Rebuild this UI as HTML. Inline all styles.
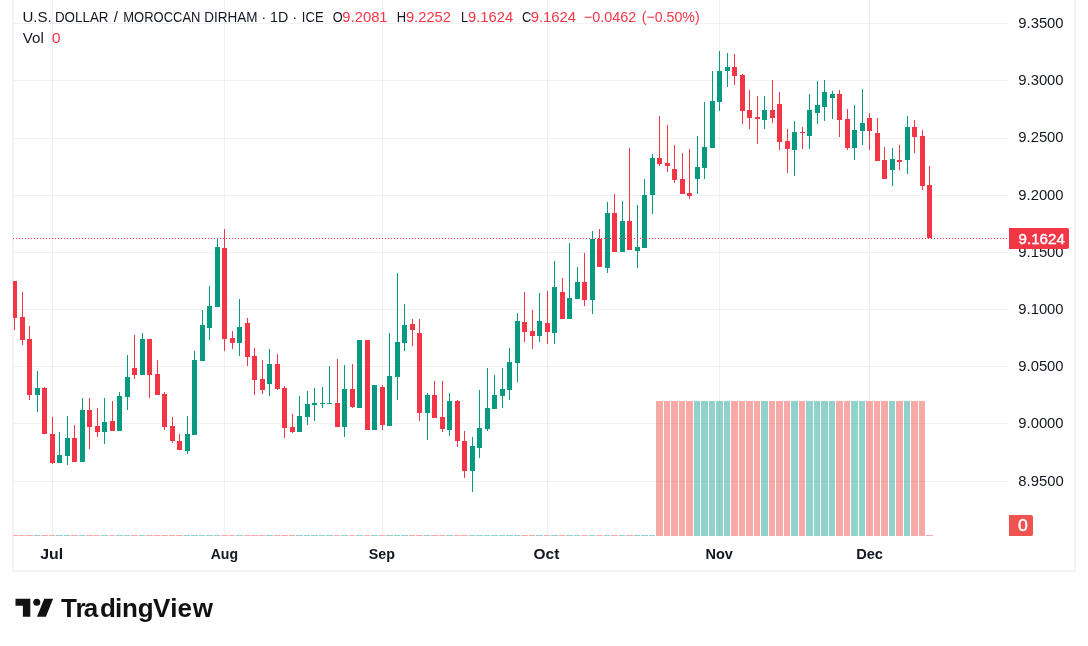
<!DOCTYPE html>
<html lang="en"><head><meta charset="utf-8"><title>USDMAD chart</title>
<style>html,body{margin:0;padding:0;background:#fff;}body{width:1088px;height:646px;overflow:hidden;}svg{display:block;}text{font-family:"Liberation Sans", sans-serif;}</style>
</head><body>
<svg width="1088" height="646" viewBox="0 0 1088 646">
<rect width="1088" height="646" fill="#fff"/>
<g fill="rgba(0,0,0,0.055)" shape-rendering="crispEdges">
<rect x="13" y="23" width="995" height="1"/>
<rect x="13" y="80" width="995" height="1"/>
<rect x="13" y="138" width="995" height="1"/>
<rect x="13" y="195" width="995" height="1"/>
<rect x="13" y="252" width="995" height="1"/>
<rect x="13" y="309" width="995" height="1"/>
<rect x="13" y="366" width="995" height="1"/>
<rect x="13" y="423" width="995" height="1"/>
<rect x="13" y="481" width="995" height="1"/>
<rect x="52" y="0" width="1" height="535"/>
<rect x="224" y="0" width="1" height="535"/>
<rect x="382" y="0" width="1" height="535"/>
<rect x="547" y="0" width="1" height="535"/>
<rect x="719" y="0" width="1" height="535"/>
<rect x="869" y="0" width="1" height="535"/>
</g>
<g fill="#f4f4f4">
<rect x="12" y="0" width="2" height="570"/>
<rect x="12" y="570" width="1064" height="2"/>
<rect x="1074" y="0" width="2" height="570"/>
</g>
<g shape-rendering="crispEdges">
<rect x="13" y="535" width="5" height="1" fill="rgba(239,83,80,0.5)"/>
<rect x="19" y="535" width="6" height="1" fill="rgba(239,83,80,0.5)"/>
<rect x="26" y="535" width="7" height="1" fill="rgba(239,83,80,0.5)"/>
<rect x="34" y="535" width="6" height="1" fill="rgba(38,166,154,0.5)"/>
<rect x="41" y="535" width="7" height="1" fill="rgba(239,83,80,0.5)"/>
<rect x="49" y="535" width="6" height="1" fill="rgba(239,83,80,0.5)"/>
<rect x="56" y="535" width="7" height="1" fill="rgba(38,166,154,0.5)"/>
<rect x="64" y="535" width="6" height="1" fill="rgba(38,166,154,0.5)"/>
<rect x="71" y="535" width="7" height="1" fill="rgba(239,83,80,0.5)"/>
<rect x="79" y="535" width="6" height="1" fill="rgba(38,166,154,0.5)"/>
<rect x="86" y="535" width="7" height="1" fill="rgba(239,83,80,0.5)"/>
<rect x="94" y="535" width="6" height="1" fill="rgba(239,83,80,0.5)"/>
<rect x="101" y="535" width="7" height="1" fill="rgba(38,166,154,0.5)"/>
<rect x="109" y="535" width="6" height="1" fill="rgba(239,83,80,0.5)"/>
<rect x="116" y="535" width="7" height="1" fill="rgba(38,166,154,0.5)"/>
<rect x="124" y="535" width="6" height="1" fill="rgba(38,166,154,0.5)"/>
<rect x="131" y="535" width="7" height="1" fill="rgba(239,83,80,0.5)"/>
<rect x="139" y="535" width="6" height="1" fill="rgba(38,166,154,0.5)"/>
<rect x="146" y="535" width="7" height="1" fill="rgba(239,83,80,0.5)"/>
<rect x="154" y="535" width="6" height="1" fill="rgba(239,83,80,0.5)"/>
<rect x="161" y="535" width="7" height="1" fill="rgba(239,83,80,0.5)"/>
<rect x="169" y="535" width="6" height="1" fill="rgba(239,83,80,0.5)"/>
<rect x="176" y="535" width="7" height="1" fill="rgba(239,83,80,0.5)"/>
<rect x="184" y="535" width="6" height="1" fill="rgba(38,166,154,0.5)"/>
<rect x="191" y="535" width="7" height="1" fill="rgba(38,166,154,0.5)"/>
<rect x="199" y="535" width="6" height="1" fill="rgba(38,166,154,0.5)"/>
<rect x="206" y="535" width="7" height="1" fill="rgba(38,166,154,0.5)"/>
<rect x="214" y="535" width="6" height="1" fill="rgba(38,166,154,0.5)"/>
<rect x="221" y="535" width="7" height="1" fill="rgba(239,83,80,0.5)"/>
<rect x="229" y="535" width="6" height="1" fill="rgba(239,83,80,0.5)"/>
<rect x="236" y="535" width="7" height="1" fill="rgba(38,166,154,0.5)"/>
<rect x="244" y="535" width="6" height="1" fill="rgba(239,83,80,0.5)"/>
<rect x="251" y="535" width="7" height="1" fill="rgba(239,83,80,0.5)"/>
<rect x="259" y="535" width="6" height="1" fill="rgba(239,83,80,0.5)"/>
<rect x="266" y="535" width="7" height="1" fill="rgba(38,166,154,0.5)"/>
<rect x="274" y="535" width="6" height="1" fill="rgba(239,83,80,0.5)"/>
<rect x="281" y="535" width="7" height="1" fill="rgba(239,83,80,0.5)"/>
<rect x="289" y="535" width="6" height="1" fill="rgba(239,83,80,0.5)"/>
<rect x="296" y="535" width="7" height="1" fill="rgba(38,166,154,0.5)"/>
<rect x="304" y="535" width="6" height="1" fill="rgba(38,166,154,0.5)"/>
<rect x="311" y="535" width="7" height="1" fill="rgba(38,166,154,0.5)"/>
<rect x="319" y="535" width="6" height="1" fill="rgba(38,166,154,0.5)"/>
<rect x="326" y="535" width="7" height="1" fill="rgba(38,166,154,0.5)"/>
<rect x="334" y="535" width="6" height="1" fill="rgba(239,83,80,0.5)"/>
<rect x="341" y="535" width="7" height="1" fill="rgba(38,166,154,0.5)"/>
<rect x="349" y="535" width="6" height="1" fill="rgba(239,83,80,0.5)"/>
<rect x="356" y="535" width="7" height="1" fill="rgba(38,166,154,0.5)"/>
<rect x="364" y="535" width="6" height="1" fill="rgba(239,83,80,0.5)"/>
<rect x="371" y="535" width="7" height="1" fill="rgba(38,166,154,0.5)"/>
<rect x="379" y="535" width="6" height="1" fill="rgba(239,83,80,0.5)"/>
<rect x="386" y="535" width="7" height="1" fill="rgba(38,166,154,0.5)"/>
<rect x="394" y="535" width="6" height="1" fill="rgba(38,166,154,0.5)"/>
<rect x="401" y="535" width="7" height="1" fill="rgba(38,166,154,0.5)"/>
<rect x="409" y="535" width="6" height="1" fill="rgba(239,83,80,0.5)"/>
<rect x="416" y="535" width="7" height="1" fill="rgba(239,83,80,0.5)"/>
<rect x="424" y="535" width="6" height="1" fill="rgba(38,166,154,0.5)"/>
<rect x="431" y="535" width="7" height="1" fill="rgba(239,83,80,0.5)"/>
<rect x="439" y="535" width="6" height="1" fill="rgba(239,83,80,0.5)"/>
<rect x="446" y="535" width="7" height="1" fill="rgba(38,166,154,0.5)"/>
<rect x="454" y="535" width="6" height="1" fill="rgba(239,83,80,0.5)"/>
<rect x="461" y="535" width="7" height="1" fill="rgba(239,83,80,0.5)"/>
<rect x="469" y="535" width="6" height="1" fill="rgba(38,166,154,0.5)"/>
<rect x="476" y="535" width="7" height="1" fill="rgba(38,166,154,0.5)"/>
<rect x="484" y="535" width="6" height="1" fill="rgba(38,166,154,0.5)"/>
<rect x="491" y="535" width="7" height="1" fill="rgba(38,166,154,0.5)"/>
<rect x="499" y="535" width="6" height="1" fill="rgba(38,166,154,0.5)"/>
<rect x="506" y="535" width="7" height="1" fill="rgba(38,166,154,0.5)"/>
<rect x="514" y="535" width="6" height="1" fill="rgba(38,166,154,0.5)"/>
<rect x="521" y="535" width="7" height="1" fill="rgba(239,83,80,0.5)"/>
<rect x="529" y="535" width="6" height="1" fill="rgba(239,83,80,0.5)"/>
<rect x="536" y="535" width="7" height="1" fill="rgba(38,166,154,0.5)"/>
<rect x="544" y="535" width="6" height="1" fill="rgba(239,83,80,0.5)"/>
<rect x="551" y="535" width="7" height="1" fill="rgba(38,166,154,0.5)"/>
<rect x="559" y="535" width="6" height="1" fill="rgba(239,83,80,0.5)"/>
<rect x="566" y="535" width="7" height="1" fill="rgba(38,166,154,0.5)"/>
<rect x="574" y="535" width="6" height="1" fill="rgba(38,166,154,0.5)"/>
<rect x="581" y="535" width="7" height="1" fill="rgba(239,83,80,0.5)"/>
<rect x="589" y="535" width="6" height="1" fill="rgba(38,166,154,0.5)"/>
<rect x="596" y="535" width="7" height="1" fill="rgba(239,83,80,0.5)"/>
<rect x="604" y="535" width="6" height="1" fill="rgba(38,166,154,0.5)"/>
<rect x="611" y="535" width="7" height="1" fill="rgba(239,83,80,0.5)"/>
<rect x="619" y="535" width="6" height="1" fill="rgba(38,166,154,0.5)"/>
<rect x="626" y="535" width="7" height="1" fill="rgba(239,83,80,0.5)"/>
<rect x="634" y="535" width="6" height="1" fill="rgba(38,166,154,0.5)"/>
<rect x="641" y="535" width="7" height="1" fill="rgba(38,166,154,0.5)"/>
<rect x="649" y="535" width="6" height="1" fill="rgba(38,166,154,0.5)"/>
<rect x="656" y="401" width="7" height="135" fill="rgba(239,83,80,0.5)"/>
<rect x="664" y="401" width="6" height="135" fill="rgba(239,83,80,0.5)"/>
<rect x="671" y="401" width="7" height="135" fill="rgba(239,83,80,0.5)"/>
<rect x="679" y="401" width="6" height="135" fill="rgba(239,83,80,0.5)"/>
<rect x="686" y="401" width="7" height="135" fill="rgba(239,83,80,0.5)"/>
<rect x="694" y="401" width="6" height="135" fill="rgba(38,166,154,0.5)"/>
<rect x="701" y="401" width="7" height="135" fill="rgba(38,166,154,0.5)"/>
<rect x="709" y="401" width="6" height="135" fill="rgba(38,166,154,0.5)"/>
<rect x="716" y="401" width="7" height="135" fill="rgba(38,166,154,0.5)"/>
<rect x="724" y="401" width="6" height="135" fill="rgba(38,166,154,0.5)"/>
<rect x="731" y="401" width="7" height="135" fill="rgba(239,83,80,0.5)"/>
<rect x="739" y="401" width="6" height="135" fill="rgba(239,83,80,0.5)"/>
<rect x="746" y="401" width="7" height="135" fill="rgba(239,83,80,0.5)"/>
<rect x="754" y="401" width="6" height="135" fill="rgba(239,83,80,0.5)"/>
<rect x="761" y="401" width="7" height="135" fill="rgba(38,166,154,0.5)"/>
<rect x="769" y="401" width="6" height="135" fill="rgba(239,83,80,0.5)"/>
<rect x="776" y="401" width="7" height="135" fill="rgba(239,83,80,0.5)"/>
<rect x="784" y="401" width="6" height="135" fill="rgba(239,83,80,0.5)"/>
<rect x="791" y="401" width="7" height="135" fill="rgba(38,166,154,0.5)"/>
<rect x="799" y="401" width="6" height="135" fill="rgba(239,83,80,0.5)"/>
<rect x="806" y="401" width="7" height="135" fill="rgba(38,166,154,0.5)"/>
<rect x="814" y="401" width="6" height="135" fill="rgba(38,166,154,0.5)"/>
<rect x="821" y="401" width="7" height="135" fill="rgba(38,166,154,0.5)"/>
<rect x="829" y="401" width="6" height="135" fill="rgba(38,166,154,0.5)"/>
<rect x="836" y="401" width="7" height="135" fill="rgba(239,83,80,0.5)"/>
<rect x="844" y="401" width="6" height="135" fill="rgba(239,83,80,0.5)"/>
<rect x="851" y="401" width="7" height="135" fill="rgba(38,166,154,0.5)"/>
<rect x="859" y="401" width="6" height="135" fill="rgba(38,166,154,0.5)"/>
<rect x="866" y="401" width="7" height="135" fill="rgba(239,83,80,0.5)"/>
<rect x="874" y="401" width="6" height="135" fill="rgba(239,83,80,0.5)"/>
<rect x="881" y="401" width="7" height="135" fill="rgba(239,83,80,0.5)"/>
<rect x="889" y="401" width="6" height="135" fill="rgba(38,166,154,0.5)"/>
<rect x="896" y="401" width="7" height="135" fill="rgba(239,83,80,0.5)"/>
<rect x="904" y="401" width="6" height="135" fill="rgba(38,166,154,0.5)"/>
<rect x="911" y="401" width="7" height="135" fill="rgba(239,83,80,0.5)"/>
<rect x="919" y="401" width="6" height="135" fill="rgba(239,83,80,0.5)"/>
<rect x="926" y="535" width="7" height="1" fill="rgba(239,83,80,0.5)"/>
</g>
<g shape-rendering="crispEdges">
<rect x="14" y="281" width="1" height="49" fill="#f23645"/>
<rect x="13" y="281" width="4" height="37" fill="#f23645"/>
<rect x="22" y="292" width="1" height="53" fill="#f23645"/>
<rect x="20" y="317" width="5" height="23" fill="#f23645"/>
<rect x="29" y="326" width="1" height="74" fill="#f23645"/>
<rect x="27" y="339" width="5" height="56" fill="#f23645"/>
<rect x="37" y="371" width="1" height="41" fill="#089981"/>
<rect x="35" y="388" width="5" height="7" fill="#089981"/>
<rect x="44" y="387" width="1" height="47" fill="#f23645"/>
<rect x="42" y="388" width="5" height="46" fill="#f23645"/>
<rect x="52" y="417" width="1" height="47" fill="#f23645"/>
<rect x="50" y="434" width="5" height="29" fill="#f23645"/>
<rect x="59" y="432" width="1" height="31" fill="#089981"/>
<rect x="57" y="455" width="5" height="8" fill="#089981"/>
<rect x="67" y="416" width="1" height="49" fill="#089981"/>
<rect x="65" y="438" width="5" height="18" fill="#089981"/>
<rect x="74" y="425" width="1" height="37" fill="#f23645"/>
<rect x="72" y="438" width="5" height="24" fill="#f23645"/>
<rect x="82" y="398" width="1" height="64" fill="#089981"/>
<rect x="80" y="410" width="5" height="52" fill="#089981"/>
<rect x="89" y="398" width="1" height="51" fill="#f23645"/>
<rect x="87" y="410" width="5" height="17" fill="#f23645"/>
<rect x="97" y="408" width="1" height="29" fill="#f23645"/>
<rect x="95" y="426" width="5" height="6" fill="#f23645"/>
<rect x="104" y="398" width="1" height="46" fill="#089981"/>
<rect x="102" y="422" width="5" height="10" fill="#089981"/>
<rect x="112" y="401" width="1" height="30" fill="#f23645"/>
<rect x="110" y="421" width="5" height="10" fill="#f23645"/>
<rect x="119" y="392" width="1" height="39" fill="#089981"/>
<rect x="117" y="396" width="5" height="35" fill="#089981"/>
<rect x="127" y="355" width="1" height="55" fill="#089981"/>
<rect x="125" y="377" width="5" height="20" fill="#089981"/>
<rect x="134" y="335" width="1" height="44" fill="#f23645"/>
<rect x="132" y="368" width="5" height="7" fill="#f23645"/>
<rect x="142" y="333" width="1" height="42" fill="#089981"/>
<rect x="140" y="339" width="5" height="36" fill="#089981"/>
<rect x="149" y="339" width="1" height="59" fill="#f23645"/>
<rect x="147" y="339" width="5" height="36" fill="#f23645"/>
<rect x="157" y="360" width="1" height="35" fill="#f23645"/>
<rect x="155" y="374" width="5" height="21" fill="#f23645"/>
<rect x="164" y="392" width="1" height="38" fill="#f23645"/>
<rect x="162" y="394" width="5" height="33" fill="#f23645"/>
<rect x="172" y="417" width="1" height="26" fill="#f23645"/>
<rect x="170" y="426" width="5" height="15" fill="#f23645"/>
<rect x="179" y="434" width="1" height="16" fill="#f23645"/>
<rect x="177" y="441" width="5" height="9" fill="#f23645"/>
<rect x="187" y="416" width="1" height="38" fill="#089981"/>
<rect x="185" y="434" width="5" height="17" fill="#089981"/>
<rect x="194" y="351" width="1" height="84" fill="#089981"/>
<rect x="192" y="360" width="5" height="75" fill="#089981"/>
<rect x="202" y="310" width="1" height="51" fill="#089981"/>
<rect x="200" y="325" width="5" height="36" fill="#089981"/>
<rect x="209" y="286" width="1" height="54" fill="#089981"/>
<rect x="207" y="306" width="5" height="22" fill="#089981"/>
<rect x="217" y="238" width="1" height="69" fill="#089981"/>
<rect x="215" y="247" width="5" height="60" fill="#089981"/>
<rect x="224" y="229" width="1" height="122" fill="#f23645"/>
<rect x="222" y="248" width="5" height="91" fill="#f23645"/>
<rect x="232" y="331" width="1" height="18" fill="#f23645"/>
<rect x="230" y="338" width="5" height="5" fill="#f23645"/>
<rect x="239" y="299" width="1" height="57" fill="#089981"/>
<rect x="237" y="327" width="5" height="16" fill="#089981"/>
<rect x="247" y="318" width="1" height="48" fill="#f23645"/>
<rect x="245" y="323" width="5" height="34" fill="#f23645"/>
<rect x="254" y="348" width="1" height="47" fill="#f23645"/>
<rect x="252" y="356" width="5" height="24" fill="#f23645"/>
<rect x="262" y="360" width="1" height="34" fill="#f23645"/>
<rect x="260" y="379" width="5" height="11" fill="#f23645"/>
<rect x="269" y="349" width="1" height="47" fill="#089981"/>
<rect x="267" y="364" width="5" height="20" fill="#089981"/>
<rect x="277" y="354" width="1" height="36" fill="#f23645"/>
<rect x="275" y="364" width="5" height="25" fill="#f23645"/>
<rect x="284" y="386" width="1" height="52" fill="#f23645"/>
<rect x="282" y="388" width="5" height="40" fill="#f23645"/>
<rect x="292" y="414" width="1" height="19" fill="#f23645"/>
<rect x="290" y="427" width="5" height="5" fill="#f23645"/>
<rect x="299" y="396" width="1" height="36" fill="#089981"/>
<rect x="297" y="416" width="5" height="16" fill="#089981"/>
<rect x="307" y="391" width="1" height="34" fill="#089981"/>
<rect x="305" y="404" width="5" height="13" fill="#089981"/>
<rect x="314" y="388" width="1" height="33" fill="#089981"/>
<rect x="312" y="403" width="5" height="2" fill="#089981"/>
<rect x="322" y="387" width="1" height="21" fill="#089981"/>
<rect x="320" y="403" width="5" height="1" fill="#089981"/>
<rect x="329" y="366" width="1" height="38" fill="#089981"/>
<rect x="327" y="403" width="5" height="1" fill="#089981"/>
<rect x="337" y="359" width="1" height="68" fill="#f23645"/>
<rect x="335" y="403" width="5" height="24" fill="#f23645"/>
<rect x="344" y="365" width="1" height="72" fill="#089981"/>
<rect x="342" y="389" width="5" height="38" fill="#089981"/>
<rect x="352" y="364" width="1" height="44" fill="#f23645"/>
<rect x="350" y="389" width="5" height="18" fill="#f23645"/>
<rect x="359" y="340" width="1" height="68" fill="#089981"/>
<rect x="357" y="340" width="5" height="68" fill="#089981"/>
<rect x="367" y="340" width="1" height="90" fill="#f23645"/>
<rect x="365" y="340" width="5" height="90" fill="#f23645"/>
<rect x="374" y="385" width="1" height="45" fill="#089981"/>
<rect x="372" y="385" width="5" height="45" fill="#089981"/>
<rect x="382" y="385" width="1" height="45" fill="#f23645"/>
<rect x="380" y="387" width="5" height="38" fill="#f23645"/>
<rect x="389" y="333" width="1" height="93" fill="#089981"/>
<rect x="387" y="376" width="5" height="50" fill="#089981"/>
<rect x="397" y="273" width="1" height="127" fill="#089981"/>
<rect x="395" y="342" width="5" height="35" fill="#089981"/>
<rect x="404" y="304" width="1" height="47" fill="#089981"/>
<rect x="402" y="325" width="5" height="18" fill="#089981"/>
<rect x="412" y="319" width="1" height="27" fill="#f23645"/>
<rect x="410" y="324" width="5" height="6" fill="#f23645"/>
<rect x="419" y="319" width="1" height="102" fill="#f23645"/>
<rect x="417" y="333" width="5" height="80" fill="#f23645"/>
<rect x="427" y="393" width="1" height="47" fill="#089981"/>
<rect x="425" y="395" width="5" height="18" fill="#089981"/>
<rect x="434" y="381" width="1" height="37" fill="#f23645"/>
<rect x="432" y="395" width="5" height="23" fill="#f23645"/>
<rect x="442" y="381" width="1" height="51" fill="#f23645"/>
<rect x="440" y="417" width="5" height="12" fill="#f23645"/>
<rect x="449" y="393" width="1" height="43" fill="#089981"/>
<rect x="447" y="401" width="5" height="29" fill="#089981"/>
<rect x="457" y="400" width="1" height="47" fill="#f23645"/>
<rect x="455" y="401" width="5" height="40" fill="#f23645"/>
<rect x="464" y="431" width="1" height="47" fill="#f23645"/>
<rect x="462" y="441" width="5" height="30" fill="#f23645"/>
<rect x="472" y="437" width="1" height="55" fill="#089981"/>
<rect x="470" y="446" width="5" height="25" fill="#089981"/>
<rect x="479" y="390" width="1" height="68" fill="#089981"/>
<rect x="477" y="428" width="5" height="20" fill="#089981"/>
<rect x="487" y="368" width="1" height="63" fill="#089981"/>
<rect x="485" y="408" width="5" height="21" fill="#089981"/>
<rect x="494" y="375" width="1" height="34" fill="#089981"/>
<rect x="492" y="395" width="5" height="14" fill="#089981"/>
<rect x="502" y="368" width="1" height="40" fill="#089981"/>
<rect x="500" y="389" width="5" height="7" fill="#089981"/>
<rect x="509" y="348" width="1" height="52" fill="#089981"/>
<rect x="507" y="362" width="5" height="28" fill="#089981"/>
<rect x="517" y="313" width="1" height="69" fill="#089981"/>
<rect x="515" y="321" width="5" height="42" fill="#089981"/>
<rect x="524" y="292" width="1" height="50" fill="#f23645"/>
<rect x="522" y="322" width="5" height="10" fill="#f23645"/>
<rect x="532" y="310" width="1" height="39" fill="#f23645"/>
<rect x="530" y="331" width="5" height="5" fill="#f23645"/>
<rect x="539" y="293" width="1" height="49" fill="#089981"/>
<rect x="537" y="321" width="5" height="15" fill="#089981"/>
<rect x="547" y="291" width="1" height="53" fill="#f23645"/>
<rect x="545" y="323" width="5" height="9" fill="#f23645"/>
<rect x="554" y="261" width="1" height="83" fill="#089981"/>
<rect x="552" y="287" width="5" height="46" fill="#089981"/>
<rect x="562" y="278" width="1" height="41" fill="#f23645"/>
<rect x="560" y="292" width="5" height="27" fill="#f23645"/>
<rect x="569" y="243" width="1" height="76" fill="#089981"/>
<rect x="567" y="298" width="5" height="21" fill="#089981"/>
<rect x="577" y="267" width="1" height="32" fill="#089981"/>
<rect x="575" y="282" width="5" height="17" fill="#089981"/>
<rect x="584" y="253" width="1" height="53" fill="#f23645"/>
<rect x="582" y="282" width="5" height="18" fill="#f23645"/>
<rect x="592" y="231" width="1" height="83" fill="#089981"/>
<rect x="590" y="239" width="5" height="61" fill="#089981"/>
<rect x="599" y="229" width="1" height="38" fill="#f23645"/>
<rect x="597" y="239" width="5" height="28" fill="#f23645"/>
<rect x="607" y="202" width="1" height="71" fill="#089981"/>
<rect x="605" y="213" width="5" height="55" fill="#089981"/>
<rect x="614" y="194" width="1" height="58" fill="#f23645"/>
<rect x="612" y="213" width="5" height="39" fill="#f23645"/>
<rect x="622" y="201" width="1" height="51" fill="#089981"/>
<rect x="620" y="221" width="5" height="31" fill="#089981"/>
<rect x="629" y="148" width="1" height="102" fill="#f23645"/>
<rect x="627" y="221" width="5" height="29" fill="#f23645"/>
<rect x="637" y="205" width="1" height="63" fill="#089981"/>
<rect x="635" y="247" width="5" height="4" fill="#089981"/>
<rect x="644" y="179" width="1" height="69" fill="#089981"/>
<rect x="642" y="195" width="5" height="53" fill="#089981"/>
<rect x="652" y="154" width="1" height="60" fill="#089981"/>
<rect x="650" y="158" width="5" height="37" fill="#089981"/>
<rect x="659" y="116" width="1" height="50" fill="#f23645"/>
<rect x="657" y="158" width="5" height="6" fill="#f23645"/>
<rect x="667" y="125" width="1" height="47" fill="#f23645"/>
<rect x="665" y="163" width="5" height="3" fill="#f23645"/>
<rect x="674" y="145" width="1" height="38" fill="#f23645"/>
<rect x="672" y="169" width="5" height="11" fill="#f23645"/>
<rect x="682" y="153" width="1" height="41" fill="#f23645"/>
<rect x="680" y="179" width="5" height="15" fill="#f23645"/>
<rect x="689" y="149" width="1" height="50" fill="#f23645"/>
<rect x="687" y="193" width="5" height="3" fill="#f23645"/>
<rect x="697" y="136" width="1" height="58" fill="#089981"/>
<rect x="695" y="167" width="5" height="12" fill="#089981"/>
<rect x="704" y="102" width="1" height="77" fill="#089981"/>
<rect x="702" y="147" width="5" height="21" fill="#089981"/>
<rect x="712" y="71" width="1" height="77" fill="#089981"/>
<rect x="710" y="101" width="5" height="47" fill="#089981"/>
<rect x="719" y="51" width="1" height="60" fill="#089981"/>
<rect x="717" y="71" width="5" height="31" fill="#089981"/>
<rect x="727" y="53" width="1" height="34" fill="#089981"/>
<rect x="725" y="67" width="5" height="4" fill="#089981"/>
<rect x="734" y="54" width="1" height="31" fill="#f23645"/>
<rect x="732" y="67" width="5" height="9" fill="#f23645"/>
<rect x="742" y="74" width="1" height="50" fill="#f23645"/>
<rect x="740" y="75" width="5" height="36" fill="#f23645"/>
<rect x="749" y="90" width="1" height="39" fill="#f23645"/>
<rect x="747" y="110" width="5" height="8" fill="#f23645"/>
<rect x="757" y="96" width="1" height="48" fill="#f23645"/>
<rect x="755" y="117" width="5" height="2" fill="#f23645"/>
<rect x="764" y="96" width="1" height="33" fill="#089981"/>
<rect x="762" y="110" width="5" height="10" fill="#089981"/>
<rect x="772" y="80" width="1" height="43" fill="#f23645"/>
<rect x="770" y="110" width="5" height="8" fill="#f23645"/>
<rect x="779" y="92" width="1" height="58" fill="#f23645"/>
<rect x="777" y="104" width="5" height="38" fill="#f23645"/>
<rect x="787" y="129" width="1" height="44" fill="#f23645"/>
<rect x="785" y="141" width="5" height="8" fill="#f23645"/>
<rect x="794" y="121" width="1" height="55" fill="#089981"/>
<rect x="792" y="132" width="5" height="18" fill="#089981"/>
<rect x="802" y="127" width="1" height="22" fill="#f23645"/>
<rect x="800" y="132" width="5" height="1" fill="#f23645"/>
<rect x="809" y="94" width="1" height="55" fill="#089981"/>
<rect x="807" y="110" width="5" height="26" fill="#089981"/>
<rect x="817" y="81" width="1" height="43" fill="#089981"/>
<rect x="815" y="105" width="5" height="8" fill="#089981"/>
<rect x="824" y="80" width="1" height="41" fill="#089981"/>
<rect x="822" y="92" width="5" height="15" fill="#089981"/>
<rect x="832" y="91" width="1" height="28" fill="#089981"/>
<rect x="830" y="94" width="5" height="4" fill="#089981"/>
<rect x="839" y="90" width="1" height="47" fill="#f23645"/>
<rect x="837" y="94" width="5" height="26" fill="#f23645"/>
<rect x="847" y="109" width="1" height="41" fill="#f23645"/>
<rect x="845" y="119" width="5" height="29" fill="#f23645"/>
<rect x="854" y="105" width="1" height="55" fill="#089981"/>
<rect x="852" y="130" width="5" height="18" fill="#089981"/>
<rect x="862" y="89" width="1" height="56" fill="#089981"/>
<rect x="860" y="123" width="5" height="8" fill="#089981"/>
<rect x="869" y="113" width="1" height="37" fill="#f23645"/>
<rect x="867" y="118" width="5" height="13" fill="#f23645"/>
<rect x="877" y="118" width="1" height="43" fill="#f23645"/>
<rect x="875" y="133" width="5" height="28" fill="#f23645"/>
<rect x="884" y="147" width="1" height="32" fill="#f23645"/>
<rect x="882" y="160" width="5" height="19" fill="#f23645"/>
<rect x="892" y="148" width="1" height="38" fill="#089981"/>
<rect x="890" y="159" width="5" height="11" fill="#089981"/>
<rect x="899" y="145" width="1" height="25" fill="#f23645"/>
<rect x="897" y="160" width="5" height="2" fill="#f23645"/>
<rect x="907" y="116" width="1" height="58" fill="#089981"/>
<rect x="905" y="127" width="5" height="33" fill="#089981"/>
<rect x="914" y="120" width="1" height="33" fill="#f23645"/>
<rect x="912" y="127" width="5" height="10" fill="#f23645"/>
<rect x="922" y="130" width="1" height="60" fill="#f23645"/>
<rect x="920" y="136" width="5" height="50" fill="#f23645"/>
<rect x="929" y="166" width="1" height="72" fill="#f23645"/>
<rect x="927" y="185" width="5" height="53" fill="#f23645"/>
</g>
<line x1="13" y1="238.5" x2="1009" y2="238.5" stroke="#f23645" stroke-width="1" stroke-dasharray="1 2" shape-rendering="crispEdges"/>
<text x="1018.30" y="28.0" font-size="15" fill="#131722" textLength="45.29" lengthAdjust="spacingAndGlyphs">9.3500</text>
<text x="1018.30" y="85.2" font-size="15" fill="#131722" textLength="45.29" lengthAdjust="spacingAndGlyphs">9.3000</text>
<text x="1018.30" y="142.4" font-size="15" fill="#131722" textLength="45.29" lengthAdjust="spacingAndGlyphs">9.2500</text>
<text x="1018.30" y="199.6" font-size="15" fill="#131722" textLength="45.29" lengthAdjust="spacingAndGlyphs">9.2000</text>
<text x="1018.30" y="256.8" font-size="15" fill="#131722" textLength="45.29" lengthAdjust="spacingAndGlyphs">9.1500</text>
<text x="1018.30" y="314.0" font-size="15" fill="#131722" textLength="45.29" lengthAdjust="spacingAndGlyphs">9.1000</text>
<text x="1018.30" y="371.2" font-size="15" fill="#131722" textLength="45.29" lengthAdjust="spacingAndGlyphs">9.0500</text>
<text x="1018.30" y="428.4" font-size="15" fill="#131722" textLength="45.29" lengthAdjust="spacingAndGlyphs">9.0000</text>
<text x="1018.31" y="485.6" font-size="15" fill="#131722" textLength="45.34" lengthAdjust="spacingAndGlyphs">8.9500</text>
<path d="M1009 228H1067a2 2 0 0 1 2 2V247a2 2 0 0 1 -2 2H1009Z" fill="#f23645"/>
<text x="1018.59" y="243.6" font-size="15" fill="#fff" stroke="#fff" stroke-width="0.4" textLength="46.22" lengthAdjust="spacingAndGlyphs">9.1624</text>
<path d="M1009 515H1031a2 2 0 0 1 2 2V534a2 2 0 0 1 -2 2H1009Z" fill="#ef5350"/>
<text x="1018.12" y="531" font-size="15.6" fill="#fff" stroke="#fff" stroke-width="0.4" textLength="9.83" lengthAdjust="spacingAndGlyphs">0</text>
<text x="40.28" y="559.1" font-size="15" font-weight="bold" fill="#131722" textLength="22.98" lengthAdjust="spacingAndGlyphs">Jul</text>
<text x="210.66" y="559.1" font-size="15" font-weight="bold" fill="#131722" textLength="27.35" lengthAdjust="spacingAndGlyphs">Aug</text>
<text x="368.76" y="559.1" font-size="15" font-weight="bold" fill="#131722" textLength="26.22" lengthAdjust="spacingAndGlyphs">Sep</text>
<text x="533.55" y="559.1" font-size="15" font-weight="bold" fill="#131722" textLength="25.74" lengthAdjust="spacingAndGlyphs">Oct</text>
<text x="705.49" y="559.1" font-size="15" font-weight="bold" fill="#131722" textLength="27.40" lengthAdjust="spacingAndGlyphs">Nov</text>
<text x="856.14" y="559.1" font-size="15" font-weight="bold" fill="#131722" textLength="26.86" lengthAdjust="spacingAndGlyphs">Dec</text>
<text x="22.47" y="21.8" font-size="15" fill="#131722" textLength="29.36" lengthAdjust="spacingAndGlyphs">U.S.</text>
<text x="54.92" y="21.8" font-size="15" fill="#131722" textLength="53.60" lengthAdjust="spacingAndGlyphs">DOLLAR</text>
<text x="113.8" y="21.8" font-size="15" fill="#131722">/</text>
<text x="123.32" y="21.8" font-size="15" fill="#131722" textLength="77.09" lengthAdjust="spacingAndGlyphs">MOROCCAN</text>
<text x="204.37" y="21.8" font-size="15" fill="#131722" textLength="53.20" lengthAdjust="spacingAndGlyphs">DIRHAM</text>
<text x="261.2" y="21.8" font-size="15" fill="#131722">·</text>
<text x="270.09" y="21.8" font-size="15" fill="#131722" textLength="18.22" lengthAdjust="spacingAndGlyphs">1D</text>
<text x="292.3" y="21.8" font-size="15" fill="#131722">·</text>
<text x="301.86" y="21.8" font-size="15" fill="#131722" textLength="21.72" lengthAdjust="spacingAndGlyphs">ICE</text>
<text x="332.76" y="21.8" font-size="15" fill="#131722" textLength="9.97" lengthAdjust="spacingAndGlyphs">O</text>
<text x="342.36" y="21.8" font-size="15" fill="#f23645" textLength="45.25" lengthAdjust="spacingAndGlyphs">9.2081</text>
<text x="396.83" y="21.8" font-size="15" fill="#131722" textLength="9.32" lengthAdjust="spacingAndGlyphs">H</text>
<text x="405.90" y="21.8" font-size="15" fill="#f23645" textLength="45.16" lengthAdjust="spacingAndGlyphs">9.2252</text>
<text x="460.92" y="21.8" font-size="15" fill="#131722" textLength="6.99" lengthAdjust="spacingAndGlyphs">L</text>
<text x="467.93" y="21.8" font-size="15" fill="#f23645" textLength="45.24" lengthAdjust="spacingAndGlyphs">9.1624</text>
<text x="522.10" y="21.8" font-size="15" fill="#131722" textLength="9.29" lengthAdjust="spacingAndGlyphs">C</text>
<text x="530.64" y="21.8" font-size="15" fill="#f23645" textLength="45.51" lengthAdjust="spacingAndGlyphs">9.1624</text>
<text x="583.95" y="21.8" font-size="15" fill="#f23645" textLength="52.42" lengthAdjust="spacingAndGlyphs">−0.0462</text>
<text x="641.76" y="21.8" font-size="15" fill="#f23645" textLength="57.94" lengthAdjust="spacingAndGlyphs">(−0.50%)</text>
<text x="22.76" y="43.3" font-size="15" fill="#131722" textLength="21.00" lengthAdjust="spacingAndGlyphs">Vol</text>
<text x="51.70" y="43.3" font-size="15" fill="#f23645" textLength="8.84" lengthAdjust="spacingAndGlyphs">0</text>
<g fill="#111">
<path d="M15.5 598.8H30.3V616.8H22.9V605.7H15.5Z"/>
<circle cx="36.8" cy="602.2" r="3.5"/>
<path d="M44.2 598.8H53.1L45.9 616.8H37Z"/>
<text x="60.9 75.5 83.65 100 114.95 122 137.65 153 170.3 177.6 192.65" y="616.8" font-size="26" font-weight="bold">TradingView</text>
</g>
</svg></body></html>
